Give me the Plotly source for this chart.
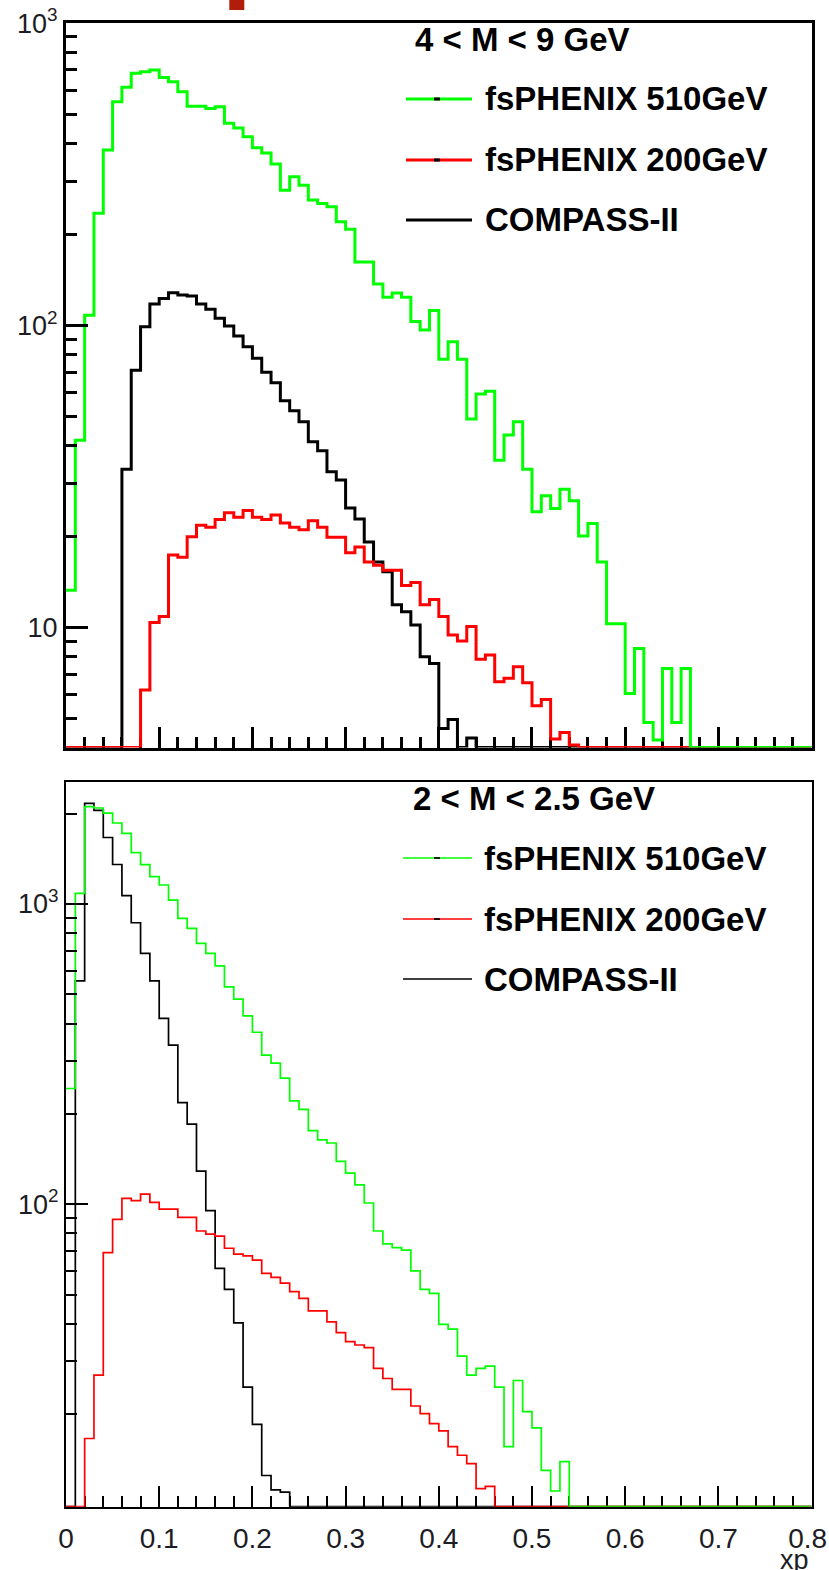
import plotly.graph_objects as go

# ---------------- data (bin width 0.01 in xp, 80 bins from 0 to 0.8) ----------------
BIN_WIDTH = 0.01
N_BINS = 80

# Top panel: 4 < M < 9 GeV
top_fsphenix510 = [13.3, 41.7, 108, 235, 380, 549, 613, 682, 690, 699,
                   661, 639, 593, 531, 531, 522, 529, 466, 450, 421,
                   387, 372, 342, 280, 310, 291, 260, 253, 247, 220,
                   208, 162, 162, 137, 124, 128, 124, 103, 96.5, 112,
                   77.2, 88.2, 77.2, 49.0, 59.3, 60.6, 35.8, 43.4, 48.0, 33.4,
                   24.2, 27.3, 24.8, 28.7, 26.3, 20.1, 22.1, 16.5, 10.3, 10.3,
                   6.06, 8.54, 4.86, 4.25, 7.33, 4.86, 7.33]
top_fsphenix200 = [0, 0, 0, 0, 0, 0, 0, 0, 6.22, 10.4,
                   10.9, 17.4, 17.1, 20.0, 21.8, 21.5, 22.8, 24.0, 23.2, 24.4,
                   23.2, 22.8, 23.6, 22.2, 21.5, 21.1, 22.6, 21.5, 19.9, 19.9,
                   17.7, 18.5, 16.5, 16.1, 15.5, 15.5, 13.8, 14.1, 11.9, 12.4,
                   10.9, 9.45, 9.03, 10.1, 7.86, 8.12, 6.62, 6.80, 7.43, 6.57,
                   5.52, 5.79, 4.28, 4.50, 4.09]
top_compass = [0, 0, 0, 0, 0, 0, 33.4, 71.1, 99.0, 117.6,
               122.8, 128.2, 126, 125, 117.6, 113, 105.5, 99.5, 92.2, 85.0,
               77.8, 70.0, 64.6, 56.3, 52.2, 48.0, 41.2, 38.5, 32.8, 30.8,
               24.9, 22.9, 19.2, 16.5, 15.3, 11.9, 11.3, 10.2, 8.01, 7.62,
               4.64, 4.97, 0, 4.32]

# Bottom panel: 2 < M < 2.5 GeV
bot_fsphenix510 = [243, 1085, 2109, 2088, 2009, 1861, 1719, 1484, 1352, 1233,
                   1157, 1031, 896, 830, 740, 685, 622, 530, 482, 424,
                   374, 314, 295, 263, 221, 207, 176, 164, 160, 139,
                   127, 116, 101, 81.5, 73.8, 71.7, 70.4, 60.0, 52.1, 50.5,
                   39.8, 38.4, 31.2, 27.0, 28.4, 28.9, 24.6, 15.6, 25.9, 20.4,
                   18.0, 13.0, 11.1, 13.9]
bot_fsphenix200 = [0, 0, 16.6, 27.0, 69.0, 89.1, 104.7, 102.8, 108.2, 101.5,
                   96.4, 96.4, 90.5, 90.5, 81.5, 79.6, 78.4, 71.4, 68.3, 67.3,
                   65.2, 58.9, 57.1, 54.6, 51.2, 48.6, 44.2, 44.2, 40.6, 37.4,
                   34.9, 34.0, 33.3, 28.4, 26.3, 24.2, 24.2, 21.3, 20.1, 18.6,
                   17.6, 15.6, 14.6, 13.7, 11.3, 11.5]
bot_compass = [0, 555, 2164, 2051, 1665, 1354, 1067, 866, 685, 555,
               416, 339, 218, 185, 129, 95.2, 61.2, 52.1, 40.3, 24.6,
               18.5, 12.5, 11.2, 11.0]

series_names = ["fsPHENIX 510GeV", "fsPHENIX 200GeV", "COMPASS-II"]
series_colors = ["#00ff00", "#ff0000", "#000000"]
panel_titles = ["4 &lt; M &lt; 9 GeV", "2 &lt; M &lt; 2.5 GeV"]

x_ticks_major = [0, 0.1, 0.2, 0.3, 0.4, 0.5, 0.6, 0.7, 0.8]
# the last label is nudged left (as in the original) with a trailing no-break space
x_tick_text = ["0", "0.1", "0.2", "0.3", "0.4", "0.5", "0.6", "0.7", "0.8\u00a0"]

top_yrange_log = [0.6037, 3.0002]
bot_yrange_log = [0.993, 3.4063]

# ---------------- helpers ----------------
W, H = 829, 1570
FONT = "Liberation Sans, Arial, sans-serif"
TICK_COLOR = "#1c1c24"
XTICK_FONT = dict(family=FONT, size=28, color=TICK_COLOR)
YTICK_FONT = dict(family=FONT, size=27, color=TICK_COLOR)


def px(x):
    return x / W


def py(y):
    return 1 - y / H


def hist_xy(vals, floor):
    vals = list(vals) + [0] * (N_BINS - len(vals))
    edges = [round(i * BIN_WIDTH, 4) for i in range(N_BINS + 1)]
    ys = [max(v, floor) for v in vals]
    ys.append(ys[-1])
    return edges, ys


fig = go.Figure()

panels = [
    dict(xa="x", ya="y", data=[top_compass, top_fsphenix200, top_fsphenix510],
         yr=top_yrange_log, lw=3),
    dict(xa="x2", ya="y2", data=[bot_compass, bot_fsphenix200, bot_fsphenix510],
         yr=bot_yrange_log, lw=1.7),
]
draw_colors = ["#000000", "#ff0000", "#00ff00"]
draw_names = ["COMPASS-II", "fsPHENIX 200GeV", "fsPHENIX 510GeV"]

for p in panels:
    floor = 10 ** p["yr"][0]
    for vals, col, nm in zip(p["data"], draw_colors, draw_names):
        xs, ys = hist_xy(vals, floor)
        fig.add_trace(go.Scatter(x=xs, y=ys, mode="lines", line_shape="hv",
                                 line=dict(color=col, width=p["lw"]),
                                 name=nm, showlegend=False, cliponaxis=False,
                                 xaxis=p["xa"], yaxis=p["ya"], hoverinfo="skip"))

xdom = [px(66), px(811.6)]

minor_y = [v * 10 ** e for e in range(0, 4) for v in range(2, 10)]


def xaxis_cfg(lw, show_labels):
    return dict(domain=xdom, range=[0, 0.80001], showline=True, linecolor="black",
                linewidth=lw, mirror=True, ticks="inside", ticklen=21,
                tickwidth=lw, tickcolor="black", tickmode="array",
                tickvals=x_ticks_major, ticktext=x_tick_text,
                showticklabels=show_labels, showgrid=False, zeroline=False,
                tickfont=XTICK_FONT, automargin=False,
                ticklabelstandoff=6, ticklabeloverflow="allow",
                minor=dict(ticks="inside", ticklen=11, tickwidth=lw,
                           tickcolor="black", dtick=0.02, tick0=0, showgrid=False),
                layer="below traces")


def yaxis_cfg(lw, dom, rng, tv, tt):
    return dict(domain=dom, type="log", range=rng, showline=True,
                linecolor="black", linewidth=lw, mirror=True, ticks="inside",
                ticklen=22, tickwidth=lw, tickcolor="black", tickmode="array",
                tickvals=tv, ticktext=tt, showgrid=False, zeroline=False,
                tickfont=YTICK_FONT, automargin=False,
                ticklabelstandoff=0, ticklabeloverflow="allow",
                minor=dict(ticks="inside", ticklen=11, tickwidth=lw,
                           tickcolor="black", tickmode="array",
                           tickvals=minor_y, showgrid=False),
                layer="above traces")


fig.update_layout(
    width=W, height=H, autosize=False,
    margin=dict(l=0, r=0, t=0, b=0, pad=0, autoexpand=False),
    paper_bgcolor="white", plot_bgcolor="white",
    showlegend=False,
    xaxis=dict(**xaxis_cfg(3, False), anchor="y"),
    yaxis=yaxis_cfg(3, [py(747.5), py(23)], top_yrange_log,
                    [10, 100, 1000], ["10", "10<sup>2</sup>", "10<sup>3</sup>"]) | dict(anchor="x"),
    xaxis2=dict(**xaxis_cfg(2, True), anchor="y2"),
    yaxis2=yaxis_cfg(2, [py(1506.7), py(782)], bot_yrange_log,
                     [100, 1000], ["10<sup>2</sup>", "10<sup>3</sup>"]) | dict(anchor="x2"),
)

shapes = []
annotations = []

# panel labels and legends (drawn in page coordinates)
legend_specs = [
    dict(title_y=40, title_x=413, rows_y=[99, 160, 220], lx0=406, lx1=472,
         tx=483, lw=3),
    dict(title_y=798, title_x=411, rows_y=[858, 919, 979], lx0=403, lx1=472,
         tx=482, lw=1.7),
]
for spec, title in zip(legend_specs, panel_titles):
    annotations.append(dict(xref="paper", yref="paper", x=px(spec["title_x"]),
                            y=py(spec["title_y"]), xanchor="left", yanchor="middle",
                            text=f"<b>{title}</b>", showarrow=False,
                            font=dict(family=FONT, size=33, color="black")))
    for name, col, yy in zip(series_names, series_colors, spec["rows_y"]):
        shapes.append(dict(type="line", xref="paper", yref="paper",
                           x0=px(spec["lx0"]), x1=px(spec["lx1"]), y0=py(yy), y1=py(yy),
                           line=dict(color=col, width=spec["lw"])))
        if col != "#000000":
            shapes.append(dict(type="line", xref="paper", yref="paper",
                               x0=px(434), x1=px(440), y0=py(yy), y1=py(yy),
                               line=dict(color="black", width=spec["lw"])))
        annotations.append(dict(xref="paper", yref="paper", x=px(spec["tx"]),
                                y=py(yy), xanchor="left", yanchor="middle",
                                text=f"<b>{name}</b>", showarrow=False,
                                font=dict(family=FONT, size=33, color="black")))

# x-axis title (sits at the bottom edge, as in the original)
annotations.append(dict(xref="paper", yref="paper", x=px(810), y=py(1560),
                        xanchor="right", yanchor="middle", text="xp", showarrow=False,
                        borderpad=0,
                        font=dict(family=FONT, size=27, color=TICK_COLOR)))

# small dark-red fragment at the top edge
shapes.append(dict(type="rect", xref="paper", yref="paper",
                   x0=px(229.3), x1=px(244.3), y0=py(10), y1=py(0),
                   fillcolor="#b01e0a", line=dict(width=0)))

fig.update_layout(shapes=shapes, annotations=annotations)

fig.write_html("out.html")
